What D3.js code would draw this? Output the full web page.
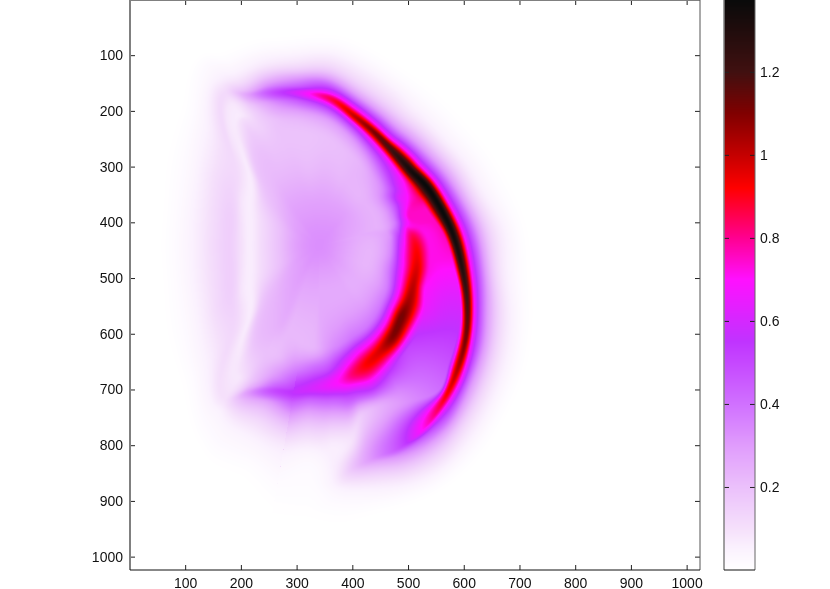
<!DOCTYPE html>
<html><head><meta charset="utf-8">
<script src="https://cdn.jsdelivr.net/npm/d3@7/dist/d3.min.js"></script>
<style>
html,body{margin:0;padding:0;background:#fff;overflow:hidden}
#wrap{position:relative;width:830px;height:589px}
canvas{position:absolute;left:130px;top:0}
svg{position:absolute;left:0;top:0}
text{font-family:"Liberation Sans",Arial,sans-serif;font-size:14px;fill:#111}
</style></head><body><div id="wrap"><canvas id="heat" width="570" height="570"></canvas><svg id="chart" width="830" height="589"></svg></div>
<script>
const xTicks=[100,200,300,400,500,600,700,800,900,1000];
const yTicks=[100,200,300,400,500,600,700,800,900,1000];
const colorbarTicks=[0.2,0.4,0.6,0.8,1,1.2];
const colorStops=[0,.05,.1,.2,.3,.4,.55,.7,.8,.92,1,1.1,1.2,1.37];
const colorRange=["#ffffff","#fbf2fe","#f5e0fb","#ebc0fb","#e09cfc","#d070ff","#c033ff","#ff10ff","#ff0090","#ff0000","#c40000","#800000","#401010","#0a0a0a"];
const fieldCentre=[341,442];
const rayAngles=[-165,-150,-135,-122,-116,-108,-98,-86,-75,-65,-54,-41,-29,-18,-6,10,21,32,42,51,60,69,76,81,86,93,100,100.01,109,116,122,135,150,165,180];
const rayRadii=[
[0,36,74,106,130,146,157,167,193,216,252,275,297],
[0,40,81,119,146,162,173,185,212,234,270,297,324],
[0,54,108,148,178,194,209,223,252,274,310,333,360],
[0,72,144,207,265,275,297,320,335,347,360,382,410],
[0,72,144,207,243,261,279,301,311,324,338,360,396],
[0,72,144,207,234,252,270,288,302,317,333,356,396],
[0,72,144,198,225,243,261,277,290,304,320,346,387],
[0,72,144,189,212,230,248,265,277,290,310,342,387],
[0,72,135,171,194,211,227,241,254,268,288,324,374],
[0,72,126,162,180,196,212,227,239,254,274,310,360],
[0,72,117,148,166,182,200,216,230,245,266,302,356],
[0,72,112,137,155,171,194,212,230,246,267,299,353],
[0,72,112,144,166,184,198,220,237,253,274,306,360],
[0,72,108,140,158,171,202,227,244,261,281,313,369],
[0,90,126,144,169,194,221,239,257,275,296,333,382],
[0,90,126,153,178,203,245,261,277,294,313,346,396],
[0,90,130,158,182,205,268,284,297,313,335,371,418],
[0,90,140,166,189,225,292,310,322,338,360,396,443],
[0,90,148,173,196,238,311,333,346,360,382,418,461],
[0,90,158,184,209,248,335,355,367,382,403,439,482],
[0,90,166,194,218,257,320,376,389,403,425,457,495],
[0,90,171,203,229,270,310,389,403,418,437,464,500],
[0,90,176,212,238,274,317,392,407,421,439,464,500],
[0,90,180,216,245,281,356,401,416,428,445,468,504],
[0,90,180,220,250,281,369,414,428,440,455,477,513],
[0,90,180,221,257,279,362,398,423,450,472,486,504],
[0,90,176,223,266,288,374,414,436,454,470,486,500],
[0,90,176,223,239,254,261,266,288,317,346,374,500],
[0,90,162,207,234,252,265,275,297,324,355,400,450],
[0,81,153,212,248,266,279,293,310,333,356,400,446],
[0,72,144,207,265,279,299,320,333,346,360,382,423],
[0,54,108,148,178,194,209,223,252,274,310,333,360],
[0,40,81,119,146,162,173,185,212,234,270,297,324],
[0,36,74,106,130,146,157,167,193,216,252,275,297],
[0,36,72,103,126,140,153,162,189,211,247,270,292]];
const rayValues=[
[.33,.30,.2,.12,.065,.1,.14,.155,.12,.08,.03,.01,0],
[.33,.30,.21,.13,.065,.09,.125,.14,.115,.08,.03,.01,0],
[.33,.29,.22,.17,.07,.09,.11,.12,.1,.07,.03,.01,0],
[.33,.29,.22,.19,.1,.07,.08,.12,.09,.06,.04,.02,0],
[.33,.29,.22,.18,.15,.15,.18,.27,.2,.12,.07,.03,0],
[.33,.29,.22,.19,.2,.25,.33,.47,.33,.2,.1,.04,0],
[.33,.29,.21,.19,.22,.3,.45,.62,.44,.3,.15,.05,0],
[.33,.29,.22,.2,.24,.33,.55,.85,.62,.42,.2,.06,0],
[.33,.29,.22,.21,.26,.37,.62,1,.7,.42,.2,.06,0],
[.33,.29,.23,.23,.29,.42,.68,1.1,.72,.42,.2,.06,0],
[.33,.29,.23,.26,.33,.46,.7,1.2,.72,.42,.2,.05,0],
[.33,.28,.24,.3,.38,.52,.75,1.32,.72,.42,.2,.05,0],
[.33,.27,.24,.38,.62,.72,.85,1.37,.72,.42,.2,.05,0],
[.33,.26,.24,.36,.62,.75,.75,1.37,.72,.42,.2,.05,0],
[.33,.24,.32,.55,.85,.72,.76,1.35,.72,.42,.2,.05,0],
[.33,.23,.34,.7,.95,.72,.7,1.28,.72,.42,.2,.05,0],
[.33,.23,.36,.7,1,.7,.62,1.2,.72,.42,.2,.05,0],
[.33,.24,.36,.7,1.05,.64,.55,1.12,.7,.42,.2,.05,0],
[.33,.25,.37,.7,1.12,.55,.48,1.02,.7,.42,.2,.05,0],
[.33,.25,.38,.7,1.1,.5,.4,.9,.65,.42,.2,.05,0],
[.33,.26,.38,.7,.98,.55,.33,.72,.48,.33,.17,.05,0],
[.33,.26,.38,.7,.92,.58,.25,.47,.33,.22,.12,.04,0],
[.33,.26,.36,.65,.82,.52,.17,.32,.23,.15,.08,.03,0],
[.33,.26,.34,.56,.72,.45,.09,.2,.15,.1,.05,.02,0],
[.33,.26,.3,.48,.66,.42,.06,.07,.06,.04,.025,.01,0],
[.33,.26,.23,.42,.6,.42,.06,.02,.015,.01,.005,.002,0],
[.33,.26,.22,.36,.56,.42,.06,.025,.015,.01,.005,.002,0],
[.33,.26,.22,.36,.43,.5,.53,.56,.42,.24,.12,.06,0],
[.33,.26,.22,.22,.28,.33,.4,.47,.28,.15,.07,.02,0],
[.33,.28,.25,.2,.2,.2,.23,.3,.22,.12,.06,.02,0],
[.33,.29,.24,.2,.1,.08,.09,.1,.08,.05,.035,.02,0],
[.33,.29,.23,.18,.07,.09,.115,.125,.1,.07,.03,.01,0],
[.33,.30,.21,.13,.065,.09,.13,.15,.12,.08,.03,.01,0],
[.33,.30,.2,.12,.065,.1,.14,.155,.12,.08,.03,.01,0],
[.33,.30,.2,.12,.065,.1,.14,.155,.12,.08,.03,.01,0]];

const plot={l:130,r:700,t:0,b:570},bar={l:724,r:755};
const x=d3.scaleLinear([1,1024],[plot.l,plot.r]);
const y=d3.scaleLinear([1,1024],[plot.t,plot.b]);
const barY=d3.scaleLinear([0,1.373],[plot.b,plot.t]);
const color=d3.scaleLinear(colorStops,colorRange).clamp(true);

const nRay=rayAngles.length,nK=rayRadii[0].length,R=new Float64Array(nK),V=new Float64Array(nK);
// limited tangents across rays so the surface is smooth between them
function tangents(table){
  return table.map((row,i)=>row.map((a,k)=>{
    const p=(i-1+nRay)%nRay,n=(i+1)%nRay;
    const dp=((rayAngles[i]-rayAngles[p])+360)%360,dn=((rayAngles[n]-rayAngles[i])+360)%360;
    if(dp<1||dn<1){
      const q=dp<1?n:p,d=dp<1?dn:dp;
      return dp<1?(table[q][k]-a)/d:(a-table[q][k])/d;
    }
    const s0=(a-table[p][k])/dp,s1=(table[n][k]-a)/dn;
    if(s0*s1<=0)return 0;
    const m=(s0*dn+s1*dp)/(dp+dn);
    return Math.sign(m)*Math.min(Math.abs(m),3*Math.abs(s0),3*Math.abs(s1));
  }));
}
const tanR=tangents(rayRadii),tanV=tangents(rayValues);
function herm(a,b,ma,mb,h,s){
  const s2=s*s,s3=s2*s;
  return (2*s3-3*s2+1)*a+(s3-2*s2+s)*h*ma+(-2*s3+3*s2)*b+(s3-s2)*h*mb;
}
function slopeAt(k){
  if(k<=0||k>=nK-1)return 0;
  const h0=R[k]-R[k-1],h1=R[k+1]-R[k];
  if(h0<=0||h1<=0)return 0;
  const s0=(V[k]-V[k-1])/h0,s1=(V[k+1]-V[k])/h1;
  if(s0*s1<=0)return 0;
  const p=(s0*h1+s1*h0)/(h0+h1);
  return Math.sign(s0)*Math.min(Math.abs(s0),Math.abs(s1),Math.abs(p)/2)*2;
}
function field(ux,uy){
  const dx=ux-fieldCentre[0],dy=uy-fieldCentre[1];
  const r=Math.hypot(dx,dy);
  let th=Math.atan2(dy,dx)*180/Math.PI;
  if(th<rayAngles[0])th+=360;
  let i=nRay-1;
  for(let a=0;a<nRay-1;a++){if(th<rayAngles[a+1]){i=a;break;}}
  const j=(i+1)%nRay;
  const a0=rayAngles[i],a1=j===0?rayAngles[0]+360:rayAngles[j];
  const d=a1-a0,t=(th-a0)/d;
  for(let k=0;k<nK;k++){
    R[k]=herm(rayRadii[i][k],rayRadii[j][k],tanR[i][k],tanR[j][k],d,t);
    V[k]=Math.max(0,herm(rayValues[i][k],rayValues[j][k],tanV[i][k],tanV[j][k],d,t));
    if(k>0&&R[k]<R[k-1])R[k]=R[k-1];
  }
  if(r>=R[nK-1])return 0;
  let k=0;while(k<nK-2&&r>R[k+1])k++;
  const h=R[k+1]-R[k];if(h<=0)return V[k];
  return herm(V[k],V[k+1],slopeAt(k),slopeAt(k+1),h,(r-R[k])/h);
}
const cv=document.getElementById("heat"),ctx=cv.getContext("2d");
const img=ctx.createImageData(570,570);
for(let py=0;py<570;py++)for(let px=0;px<570;px++){
  const c=d3.rgb(color(field(x.invert(px+plot.l+.5),y.invert(py+.5))));
  const o=(py*570+px)*4;img.data[o]=c.r;img.data[o+1]=c.g;img.data[o+2]=c.b;img.data[o+3]=255;
}
ctx.putImageData(img,0,0);

const svg=d3.select("#chart");
const tickColor="#222";
function style(g){g.selectAll(".domain").remove();g.selectAll("line").attr("stroke",tickColor);g.selectAll("text").attr("fill","#111");return g;}
const fmt=d3.format("d");
svg.append("g").attr("transform",`translate(0,${plot.b})`).call(d3.axisBottom(x).tickValues(xTicks).tickFormat(fmt).tickSize(-5).tickPadding(8)).call(style);
svg.append("g").attr("transform",`translate(0,${plot.t})`).call(d3.axisTop(x).tickValues(xTicks).tickSize(-5).tickFormat("")).call(style);
svg.append("g").attr("transform",`translate(${plot.l},0)`).call(d3.axisLeft(y).tickValues(yTicks).tickFormat(fmt).tickSize(-5).tickPadding(7)).call(style);
svg.append("g").attr("transform",`translate(${plot.r},0)`).call(d3.axisRight(y).tickValues(yTicks).tickSize(-5).tickFormat("")).call(style);
function spine(x1,y1,x2,y2,c,w){svg.append("line").attr("x1",x1).attr("y1",y1).attr("x2",x2).attr("y2",y2).attr("stroke",c).attr("stroke-width",w);}
spine(plot.l,plot.t,plot.l,plot.b,"#808080",2);
spine(plot.l,plot.t,plot.r,plot.t,"#808080",2);
spine(plot.r,plot.t,plot.r,plot.b,"#555",1);
spine(plot.l,plot.b,plot.r,plot.b,"#111",1);

const rows=d3.range(plot.t,plot.b);
svg.append("g").attr("shape-rendering","crispEdges").selectAll("rect").data(rows).join("rect")
  .attr("x",bar.l).attr("width",bar.r-bar.l)
  .attr("y",d=>d).attr("height",1)
  .attr("fill",d=>color(barY.invert(d+.5)));
svg.append("g").attr("transform",`translate(${bar.r},0)`).call(d3.axisRight(barY).tickValues(colorbarTicks).tickFormat(d3.format("~g")).tickSize(-5).tickPadding(5)).call(style);
svg.append("g").attr("transform",`translate(${bar.l},0)`).call(d3.axisLeft(barY).tickValues(colorbarTicks).tickSize(-5).tickFormat("")).call(style);
spine(bar.l,plot.t,bar.l,plot.b,"#808080",1.5);
spine(bar.r,plot.t,bar.r,plot.b,"#666",1);
spine(bar.l,plot.b,bar.r,plot.b,"#111",1);
</script></body></html>
